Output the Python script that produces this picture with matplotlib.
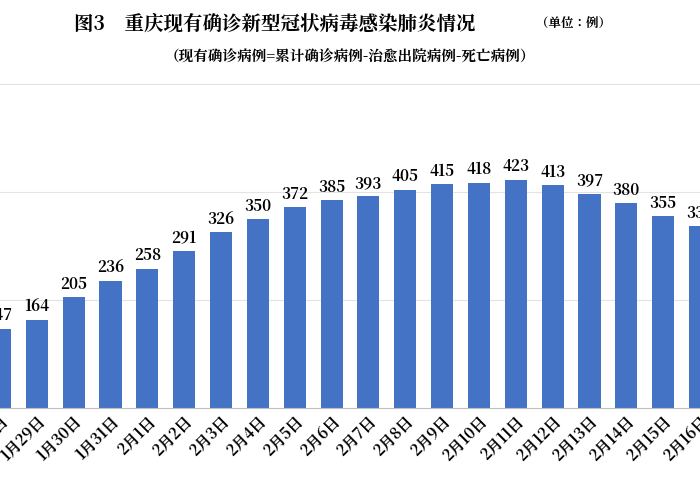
import matplotlib
matplotlib.use("Agg")
import matplotlib.pyplot as plt
from matplotlib import font_manager

cjk = None
for f in font_manager.fontManager.ttflist:
    if "CJK" in f.name and ("SC" in f.name or cjk is None):
        cjk = f.name
        if "SC" in f.name:
            break
if cjk is None:
    for path in font_manager.findSystemFonts():
        if "CJK" in path or "cjk" in path.lower():
            font_manager.fontManager.addfont(path)
            cjk = font_manager.FontProperties(fname=path).get_name()
            break
plt.rcParams["font.family"] = [cjk or "Noto Sans CJK SC", "DejaVu Sans"]

categories = ["1月28日","1月29日","1月30日","1月31日","2月1日","2月2日","2月3日","2月4日","2月5日",
              "2月6日","2月7日","2月8日","2月9日","2月10日","2月11日","2月12日","2月13日","2月14日",
              "2月15日","2月16日"]
values = [147,164,205,236,258,291,326,350,372,385,393,405,415,418,423,413,397,380,355,337]

fig = plt.figure(figsize=(7,5), dpi=100)
ax = fig.add_axes([0, 0.184, 1, 0.656])
x = list(range(len(categories)))
ax.bar(x, values, width=0.6, color="#4472C4", zorder=2)
for xi, v in zip(x, values):
    ax.text(xi, v + 8, str(v), ha="center", va="bottom", fontsize=11, fontweight="bold", clip_on=False)
ax.set_xlim(0.2, 18.87)
ax.set_ylim(0, 608)
ax.set_yticks([200, 400, 600])
ax.yaxis.grid(True, color="#e3e3e3", linewidth=0.8, zorder=0)
ax.tick_params(axis="y", left=False, labelleft=False)
ax.set_xticks(x)
ax.set_xticklabels(categories, rotation=45, ha="right", rotation_mode="anchor", fontsize=11, fontweight="bold")
ax.tick_params(axis="x", length=0, pad=4)
for s in ["top", "right", "left"]:
    ax.spines[s].set_visible(False)
ax.spines["bottom"].set_color("#bfbfbf")

fig.text(0.105, 0.953, "图3    重庆现有确诊新型冠状病毒感染肺炎情况", fontsize=14, fontweight="bold", va="center")
fig.text(0.765, 0.951, "（单位：例）", fontsize=9, fontweight="bold", va="center")
fig.text(0.5, 0.885, "（现有确诊病例=累计确诊病例-治愈出院病例-死亡病例）", fontsize=10.5, fontweight="bold",
         va="center", ha="center")
fig.savefig("out.png", dpi=100)
